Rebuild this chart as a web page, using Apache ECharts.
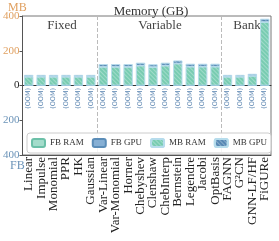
<!DOCTYPE html>
<html><head><meta charset="utf-8">
<script src="https://cdn.jsdelivr.net/npm/echarts@6/dist/echarts.min.js"></script>
<style>html,body{margin:0;padding:0;background:#fff}#c{width:279px;height:241px}</style>
</head><body><div id="c"></div>
<script>
const categories = ['Linear','Impulse','Monomial','PPR','HK','Gaussian','Var-Linear','Var-Monomial','Horner','Chebyshev','Clenshaw','ChebInterp','Bernstein','Legendre','Jacobi','OptBasis','FAGNN','G²CN','GNN-LF/HF','FiGURe'];
const mbRam = [50,50,50,50,50,50,107,107,107,114,106,114,126,108,108,108,50,50,55,365];
const mbGpu = [10,10,10,10,10,10,15,15,15,16,15,16,17,16,16,16,10,10,11,18];
const fbRam = [0,0,0,0,0,0,0,0,0,0,0,0,0,0,0,0,0,0,0,0];
const fbGpu = [0,0,0,0,0,0,0,0,0,0,0,0,0,0,0,0,0,0,0,0];
const fbStatus = ['OOM','OOM','OOM','OOM','OOM','OOM','OOM','OOM','OOM','OOM','OOM','OOM','OOM','OOM','OOM','OOM','OOM','OOM','OOM','OOM'];
const yTicks = [-400,-200,0,200,400];
const groups = [{name:'Fixed', from:0, to:6},{name:'Variable', from:6, to:16},{name:'Bank', from:16, to:20}];

const serif = "'Liberation Serif','DejaVu Serif',serif";
const teal = '#78ccb2', blue = '#5688b4';
const hatch = {symbol:'rect', symbolSize:1, dashArrayX:[1,0], dashArrayY:[1,2], rotation:Math.PI/4, color:'rgba(255,255,255,0.3)'};
const chart = echarts.init(document.getElementById('c'), null, {renderer:'canvas'});
const boundaries = groups.slice(1).map(g => g.from);
chart.setOption({
  animation:false,
  title:{text:'Memory (GB)', left:146, textAlign:'center', top:0, textStyle:{fontFamily:serif, fontSize:13, fontWeight:'normal', color:'#333'}},
  grid:{left:22, right:8, top:16, bottom:86, show:true, borderColor:'#777', borderWidth:1},
  legend:{data:['FB RAM','FB GPU','MB RAM','MB GPU'], left:27, right:10, top:133, itemWidth:13, itemHeight:8, itemGap:8,
    padding:[5,4], borderColor:'#ccc', borderWidth:1, borderRadius:3, backgroundColor:'rgba(255,255,255,0.85)',
    textStyle:{fontFamily:serif, fontSize:9, color:'#333'}},
  xAxis:[
    {type:'category', data:categories, axisLine:{onZero:false, lineStyle:{color:'#555'}}, axisTick:{show:false},
    axisLabel:{interval:0, rotate:90, fontFamily:serif, fontSize:13, color:'#222', margin:2},
    splitLine:{show:true, interval:(i)=>boundaries.includes(i), lineStyle:{type:'dashed', color:'#bbb', width:1}}},
    {type:'category', data:categories, position:'bottom', axisLine:{show:true, onZero:true, lineStyle:{color:'#333', width:1}},
     axisTick:{show:false}, axisLabel:{show:false}, splitLine:{show:false}}
  ],
  yAxis:{type:'value', min:yTicks[0], max:yTicks[yTicks.length-1], interval:200,
    axisLine:{show:true, onZero:false, lineStyle:{color:'#555'}}, axisTick:{show:true, length:3, lineStyle:{color:'#555'}},
    splitLine:{show:false},
    axisLabel:{margin:3, fontFamily:serif, fontSize:11, formatter:v=> v>0?'{mb|'+v+'}':(v<0?'{fb|'+(-v)+'}':'{z|0}'),
      rich:{mb:{color:'#e0a060', fontFamily:serif, fontSize:11}, fb:{color:'#6b93b8', fontFamily:serif, fontSize:11}, z:{color:'#222', fontFamily:serif, fontSize:11}}}},
  graphic:[
    {type:'text', left:8, top:2, style:{text:'MB', fill:'#e0a060', font:"12px "+serif}},
    {type:'text', left:10, top:160, style:{text:'FB', fill:'#6b93b8', font:"12px "+serif}},
    {type:'text', x:62, y:19, style:{text:'Fixed', fill:'#444', font:"13px "+serif, align:'center'}},
    {type:'text', x:160, y:19, style:{text:'Variable', fill:'#444', font:"13px "+serif, align:'center'}},
    {type:'text', x:247, y:19, style:{text:'Bank', fill:'#444', font:"13px "+serif, align:'center'}}
  ],
  series:[
    {name:'FB RAM', type:'bar', stack:'fb', barWidth:9, data:fbRam.map(v=>-v),
      itemStyle:{color:'#a4dccb', borderColor:'#6cc0a8', borderWidth:0.8},
      label:{show:true, position:'bottom', distance:2, rotate:90, align:'right', verticalAlign:'middle',
        formatter:p=>'('+fbStatus[p.dataIndex]+')', fontSize:6.5, fontFamily:"'DejaVu Sans',sans-serif", color:'#5a84b0'}},
    {name:'FB GPU', type:'bar', stack:'fb', barWidth:9, data:fbGpu.map(v=>-v),
      itemStyle:{color:'#86afd4', borderColor:'#5b8db8', borderWidth:0.8}},
    {name:'MB RAM', type:'bar', stack:'mb', barWidth:9, barGap:'-100%', data:mbRam,
      itemStyle:{color:teal, borderColor:'#b6dcec', borderWidth:0.6, decal:hatch}},
    {name:'MB GPU', type:'bar', stack:'mb', barWidth:9, data:mbGpu,
      itemStyle:{color:blue, borderColor:'#b6dcec', borderWidth:0.6, decal:hatch}}
  ]
});
</script></body></html>
